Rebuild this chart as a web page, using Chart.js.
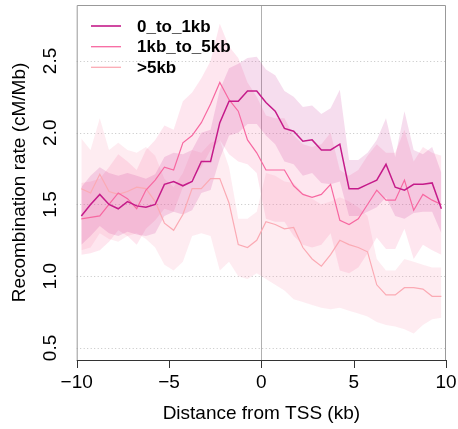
<!DOCTYPE html>
<html>
<head>
<meta charset="utf-8">
<script src="https://cdn.jsdelivr.net/npm/chart.js@4.4.1/dist/chart.umd.min.js"></script>
<style>
  body { margin: 0; background: #fff; }
  #wrap { width: 458px; height: 429px; }
</style>
</head>
<body>
<div id="wrap"><canvas id="chart" width="458" height="429"></canvas></div>
<script>
// distance from TSS (kb), bin centres
const distance = [-9.75,-9.25,-8.75,-8.25,-7.75,-7.25,-6.75,-6.25,-5.75,-5.25,
                  -4.75,-4.25,-3.75,-3.25,-2.75,-2.25,-1.75,-1.25,-0.75,-0.25,
                   0.25, 0.75, 1.25, 1.75, 2.25, 2.75, 3.25, 3.75, 4.25, 4.75,
                   5.25, 5.75, 6.25, 6.75, 7.25, 7.75, 8.25, 8.75, 9.25, 9.75];

const seriesNames = ['0_to_1kb', '1kb_to_5kb', '>5kb'];

// mean recombination rate (cM/Mb)
const rate0to1 = [1.42,1.50,1.57,1.50,1.47,1.52,1.49,1.48,1.50,1.64,
                  1.66,1.63,1.66,1.80,1.80,2.07,2.22,2.22,2.29,2.29,
                  2.21,2.15,2.03,2.01,1.94,1.95,1.88,1.88,1.92,1.61,
                  1.61,1.64,1.67,1.78,1.62,1.60,1.64,1.64,1.65,1.47];
const rate1to5 = [1.40,1.41,1.42,1.50,1.58,1.54,1.47,1.60,1.67,1.76,
                  1.74,1.93,1.98,2.07,2.20,2.35,2.23,2.15,1.95,1.86,
                  1.74,1.74,1.74,1.63,1.57,1.55,1.57,1.64,1.39,1.36,
                  1.40,1.50,1.60,1.53,1.53,1.67,1.46,1.57,1.53,1.50];
const rateOver5 = [1.61,1.58,1.71,1.59,1.57,1.59,1.62,1.61,1.52,1.37,
                   1.32,1.43,1.61,1.61,1.68,1.68,1.51,1.22,1.20,1.25,
                   1.38,1.36,1.33,1.34,1.20,1.12,1.07,1.15,1.25,1.22,
                   1.20,1.17,0.94,0.87,0.87,0.92,0.92,0.91,0.86,0.86];

// shaded intervals
const upper0to1 = [1.62,1.70,1.76,1.72,1.70,1.72,1.70,1.68,1.71,1.83,
                   1.86,1.85,1.88,2.00,2.02,2.30,2.45,2.48,2.52,2.53,
                   2.44,2.40,2.29,2.25,2.18,2.19,2.13,2.17,2.30,1.81,
                   1.81,1.86,1.95,2.10,1.83,2.15,1.88,1.85,1.90,1.72];
const lower0to1 = [1.22,1.28,1.35,1.30,1.28,1.31,1.29,1.28,1.30,1.42,
                   1.45,1.43,1.46,1.58,1.60,1.82,1.98,2.00,2.06,2.06,
                   1.98,1.92,1.80,1.78,1.70,1.72,1.65,1.64,1.66,1.42,
                   1.42,1.45,1.48,1.55,1.42,1.40,1.44,1.45,1.45,1.30];
const upper1to5 = [1.65,1.66,1.68,1.76,1.85,1.80,1.74,1.88,1.95,2.05,
                   2.02,2.22,2.28,2.38,2.50,2.76,2.60,2.52,2.35,2.25,
                   2.12,2.10,2.10,1.98,1.92,1.90,1.92,2.00,1.74,1.70,
                   1.74,1.84,1.92,1.86,1.86,2.02,1.80,1.90,1.86,1.84];
const lower1to5 = [1.15,1.16,1.18,1.24,1.32,1.28,1.22,1.33,1.39,1.47,
                   1.45,1.62,1.68,1.76,1.88,1.95,1.85,1.80,1.78,1.72,
                   1.40,1.38,1.38,1.28,1.22,1.20,1.22,1.30,1.04,1.02,
                   1.06,1.16,1.27,1.19,1.19,1.33,1.12,1.22,1.18,1.15];
const upperOver5 = [1.96,1.88,2.10,1.88,1.93,1.88,1.86,1.90,1.84,1.68,
                    1.62,1.72,1.88,1.86,1.93,1.95,1.76,1.40,1.40,1.45,
                    1.72,1.70,1.66,1.65,1.58,1.54,1.50,1.52,1.55,1.52,
                    1.48,1.42,1.12,1.04,1.04,1.12,1.10,1.08,1.06,1.06];
const lowerOver5 = [1.18,1.20,1.30,1.26,1.24,1.28,1.30,1.26,1.20,1.08,
                    1.04,1.10,1.28,1.30,1.28,1.04,1.10,1.00,0.98,1.02,
                    0.98,0.94,0.90,0.84,0.82,0.80,0.78,0.77,0.78,0.76,
                    0.74,0.72,0.68,0.66,0.65,0.63,0.60,0.66,0.70,0.71];

const xTicks = [-10, -5, 0, 5, 10];
const yTicks = [0.5, 1.0, 1.5, 2.0, 2.5];

const lineColors = ['#c51b8a', '#f768a1', '#fbaab4'];
const bandColors = ['rgba(197,27,138,0.15)', 'rgba(247,104,161,0.17)', 'rgba(250,150,175,0.18)'];

function pts(ys) {
    return ys.map((y, i) => ({ x: distance[i], y: y }));
}

function band(up, low, color, order) {
    return [
        { data: pts(up), borderWidth: 0, pointRadius: 0, fill: false, order: order },
        { data: pts(low), borderWidth: 0, pointRadius: 0, fill: '-1', backgroundColor: color, order: order }
    ];
}

const FONT = '"Liberation Sans", Arial, sans-serif';

// axes, box, labels and legend drawn with the chart's own scales
const framePlugin = {
    id: 'frame',
    beforeDraw(chart) {
        const ctx = chart.ctx;
        ctx.save();
        ctx.fillStyle = '#fff';
        ctx.fillRect(0, 0, chart.width, chart.height);
        ctx.restore();
    },
    beforeDatasetsDraw(chart) {
        const { ctx, chartArea: a, scales: { x, y } } = chart;
        ctx.save();
        ctx.strokeStyle = '#c4c4c4';
        ctx.lineWidth = 1;
        ctx.setLineDash([1, 2.5]);
        yTicks.forEach(v => {
            const py = Math.round(y.getPixelForValue(v)) + 0.5;
            ctx.beginPath();
            ctx.moveTo(a.left, py);
            ctx.lineTo(a.right, py);
            ctx.stroke();
        });
        ctx.setLineDash([]);
        ctx.strokeStyle = '#b0b0b0';
        const px0 = Math.round(x.getPixelForValue(0)) + 0.5;
        ctx.beginPath();
        ctx.moveTo(px0, a.top);
        ctx.lineTo(px0, a.bottom);
        ctx.stroke();
        ctx.restore();
    },
    afterDraw(chart) {
        const { ctx, chartArea: a, scales: { x, y } } = chart;
        ctx.save();
        // box
        ctx.lineWidth = 1;
        ctx.strokeStyle = '#999';
        ctx.beginPath();
        ctx.moveTo(a.left + 0.5, a.bottom);
        ctx.lineTo(a.left + 0.5, a.top + 0.5);
        ctx.lineTo(a.right - 0.5, a.top + 0.5);
        ctx.lineTo(a.right - 0.5, a.bottom);
        ctx.stroke();
        // x axis
        ctx.strokeStyle = '#333';
        ctx.beginPath();
        ctx.moveTo(x.getPixelForValue(-10), a.bottom + 0.5);
        ctx.lineTo(x.getPixelForValue(10), a.bottom + 0.5);
        xTicks.forEach(v => {
            const px = Math.round(x.getPixelForValue(v)) + 0.5;
            ctx.moveTo(px, a.bottom);
            ctx.lineTo(px, a.bottom + 8);
        });
        ctx.stroke();

        ctx.fillStyle = '#000';
        ctx.font = '19px ' + FONT;
        ctx.textAlign = 'center';
        ctx.textBaseline = 'middle';
        xTicks.forEach(v => {
            const label = v < 0 ? '\u2212' + Math.abs(v) : String(v);
            ctx.fillText(label, x.getPixelForValue(v), 383);
        });
        ctx.fillText('Distance from TSS (kb)', (a.left + a.right) / 2, 414);

        yTicks.forEach(v => {
            ctx.save();
            ctx.translate(51, y.getPixelForValue(v));
            ctx.rotate(-Math.PI / 2);
            ctx.fillText(v.toFixed(1), 0, 0);
            ctx.restore();
        });
        ctx.save();
        ctx.translate(20, (a.top + a.bottom) / 2);
        ctx.rotate(-Math.PI / 2);
        ctx.fillText('Recombination rate (cM/Mb)', 0, 0);
        ctx.restore();

        // legend
        const legendY = [26, 46.7, 67.3];
        const widths = [1.6, 1.3, 1.3];
        ctx.textAlign = 'left';
        ctx.font = 'bold 17px ' + FONT;
        seriesNames.forEach((name, i) => {
            ctx.strokeStyle = lineColors[i];
            ctx.lineWidth = widths[i];
            ctx.beginPath();
            ctx.moveTo(91, legendY[i]);
            ctx.lineTo(121, legendY[i]);
            ctx.stroke();
            ctx.fillText(name, 137, legendY[i] + 1);
        });
        ctx.restore();
    }
};

const datasets = [
    { data: pts(rate0to1), borderColor: lineColors[0], borderWidth: 1.5, pointRadius: 0, fill: false, order: 0 },
    { data: pts(rate1to5), borderColor: lineColors[1], borderWidth: 1.2, pointRadius: 0, fill: false, order: 0 },
    { data: pts(rateOver5), borderColor: lineColors[2], borderWidth: 1.2, pointRadius: 0, fill: false, order: 0 }
].concat(
    band(upperOver5, lowerOver5, bandColors[2], 3),
    band(upper1to5, lower1to5, bandColors[1], 2),
    band(upper0to1, lower0to1, bandColors[0], 1)
);

new Chart(document.getElementById('chart'), {
    type: 'line',
    data: { datasets: datasets },
    options: {
        responsive: false,
        animation: false,
        layout: { padding: { left: 0, right: 12, top: 5, bottom: 0 } },
        elements: { line: { tension: 0 } },
        plugins: { legend: { display: false }, tooltip: { enabled: false } },
        scales: {
            x: {
                type: 'linear', min: -10, max: 10,
                ticks: { display: false }, grid: { display: false }, border: { display: false },
                afterFit: s => { s.height = 69; }
            },
            y: {
                type: 'linear', min: 0.416, max: 2.89,
                ticks: { display: false }, grid: { display: false }, border: { display: false },
                afterFit: s => { s.width = 76.7; }
            }
        }
    },
    plugins: [framePlugin]
});
</script>
</body>
</html>
